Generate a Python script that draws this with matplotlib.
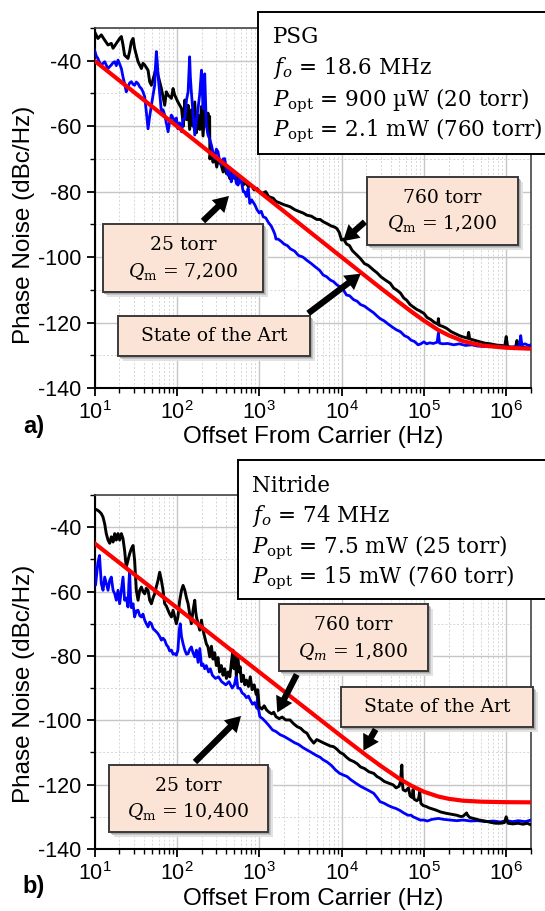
import numpy as np
import matplotlib
matplotlib.use('Agg')
import matplotlib.pyplot as plt
from matplotlib.patches import Rectangle, FancyArrowPatch
from matplotlib.ticker import FixedLocator, NullFormatter, FuncFormatter, LogLocator

plt.rcParams['font.family'] = ['Liberation Sans', 'DejaVu Sans']
plt.rcParams['mathtext.fontset'] = 'dejavuserif'
plt.rcParams['axes.unicode_minus'] = False

# ---------------- data ----------------
y_major = [-140, -120, -100, -80, -60, -40]
y_minor = [-130, -110, -90, -70, -50, -30]
x_major = [1e1, 1e2, 1e3, 1e4, 1e5, 1e6]

# state of the art (red)
f_sota = [10, 31.6, 100, 316, 1000, 3162, 10000, 20000, 30000, 50000, 70000,
          100000, 150000, 200000, 300000, 500000, 1000000, 2000000]
pn_sota_a = [-40, -50, -60, -70, -80, -90, -100, -106, -109.5, -113.8, -116.6,
             -119.4, -122.3, -123.9, -125.7, -127.0, -127.7, -128.0]
pn_sota_b = [-45, -55, -65, -75, -85, -95, -105, -110.9, -114.2, -118.1, -120.3,
             -122.2, -123.7, -124.4, -125.0, -125.3, -125.45, -125.5]

# panel a) PSG, 760 torr (black)
f_a_760 = [
    10, 11, 12.1, 13.3, 14.6, 16, 16.8, 18.4, 20.2, 21.2,
    22.2, 23.2, 25.5, 26.7, 28, 29.4, 30.7, 33.8, 37.1, 38.8,
    40.7, 44.7, 46.8, 49.1, 53.8, 56.4, 59.1, 64.9, 71.2, 74.6,
    78.2, 85.9, 90, 94.2, 103, 114, 120, 125, 131, 137,
    143, 150, 157, 165, 173, 181, 190, 199, 208, 218,
    228, 239, 245, 250, 252, 262, 275, 288, 305, 320,
    347, 365, 380, 400, 418, 440, 460, 503, 530, 560,
    609, 640, 670, 740, 800, 870, 940, 1000, 1100, 1200,
    1300, 1480, 1600, 1800, 2000, 2370, 2700, 3000, 3400, 3800,
    4300, 5000, 5500, 6000, 6700, 7500, 8200, 8800, 9400, 10000,
    10600, 11500, 12500, 13500, 15400, 17000, 19000, 21000, 24600, 27000,
    30000, 34000, 39000, 43000, 47000, 52000, 57000, 62000, 68000, 74000,
    82000, 90000, 100000, 110000, 120000, 135000, 148000, 150000, 153000, 170000,
    190000, 215000, 245000, 270000, 300000, 340000, 350000, 360000, 420000, 480000,
    550000, 640000, 770000, 880000, 960000, 1000000, 1040000, 1150000, 1300000, 1350000,
    1400000, 1600000, 1800000, 2000000]
pn_a_760 = [
    -31.1, -33.2, -32.1, -33.7, -35.2, -34.7, -36.2, -34.7, -33.2, -32.6,
    -35.2, -38.3, -39.3, -37.2, -34.2, -33.2, -36.2, -40.3, -42.4, -40.8,
    -41.3, -42.9, -46.4, -47.5, -43.9, -41.3, -44.4, -48.5, -53.6, -49.5,
    -50.5, -51.5, -48.5, -50.5, -52.6, -54.6, -60.0, -52.0, -58.0, -53.6,
    -61.0, -55.0, -60.0, -52.6, -62.0, -56.6, -61.0, -54.0, -63.0, -55.0,
    -60.0, -56.0, -62.0, -57.0, -70.0, -67.0, -71.0, -68.9, -72.5, -70.0,
    -72.0, -74.0, -71.5, -74.5, -73.0, -76.0, -74.0, -76.0, -75.0, -77.5,
    -76.5, -78.0, -77.0, -78.5, -78.0, -79.5, -79.0, -80.0, -80.5, -80.0,
    -81.5, -82.0, -83.0, -83.5, -84.0, -84.6, -85.5, -86.0, -86.5, -87.2,
    -87.5, -88.5, -88.5, -89.2, -89.8, -90.5, -90.8, -91.3, -92.5, -94.8,
    -94.5, -96.0, -96.5, -98.0, -99.4, -100.5, -102.0, -102.5, -104.0, -104.8,
    -106.0, -107.0, -108.0, -109.5, -110.1, -111.0, -112.5, -113.2, -114.5, -115.2,
    -116.0, -116.5, -117.2, -118.5, -119.0, -120.0, -120.5, -118.8, -120.8, -121.2,
    -121.8, -122.8, -123.5, -124.0, -124.4, -124.8, -123.0, -125.0, -125.5, -125.9,
    -126.3, -126.5, -126.9, -127.0, -127.2, -124.3, -127.3, -127.5, -127.5, -125.5,
    -127.8, -127.5, -127.8, -127.5]

# panel a) PSG, 25 torr (blue)
f_a_25 = [
    10, 10.5, 11, 11.5, 12.1, 12.7, 13.3, 14, 14.6, 15.3,
    16, 16.8, 17.6, 18.4, 19.3, 20.2, 21.2, 22.2, 23.2, 24.3,
    25.5, 26.7, 28, 29.4, 30.7, 32.2, 33.8, 35.4, 37.1, 38.8,
    40.7, 42.6, 44.7, 46.8, 49.1, 51.4, 53.8, 55, 56.4, 57.7,
    59.1, 62, 64.9, 68, 71.2, 74.6, 78.2, 82, 85.9, 90,
    94.2, 98.6, 103, 108, 114, 119, 125, 131, 137, 140,
    143, 146, 150, 157, 165, 173, 181, 190, 195, 199,
    203, 208, 213, 218, 223, 228, 239, 251, 263, 275,
    288, 302, 316, 330, 347, 364, 381, 398, 418, 437,
    458, 480, 503, 528, 554, 580, 609, 640, 668, 700,
    734, 770, 810, 885, 940, 1000, 1060, 1120, 1200, 1300,
    1400, 1480, 1550, 1600, 1700, 1850, 2000, 2200, 2400, 2700,
    3000, 3400, 3800, 4300, 4800, 5400, 6000, 6600, 7300, 8000,
    8800, 9600, 10500, 11500, 12500, 14000, 15500, 17000, 19000, 21500,
    24500, 27000, 29400, 33000, 37000, 42000, 47000, 52000, 58000, 64000,
    70000, 77000, 85000, 92000, 100000, 108000, 118000, 130000, 145000, 150000,
    155000, 170000, 195000, 230000, 270000, 320000, 380000, 450000, 550000, 650000,
    800000, 950000, 1100000, 1300000, 1450000, 1500000, 1550000, 1700000, 1850000, 2000000]
pn_a_25 = [
    -36.7, -38.5, -39.3, -40.5, -41.3, -40.8, -40.3, -41.5, -42.4, -41.8,
    -41.3, -40.6, -40.3, -41.5, -39.8, -41.0, -42.4, -45.0, -47.0, -49.5,
    -48.0, -46.8, -46.4, -47.2, -47.5, -46.5, -47.0, -48.0, -48.5, -49.5,
    -51.0, -55.6, -60.8, -57.0, -53.6, -50.5, -47.5, -42.0, -37.2, -40.0,
    -44.4, -50.0, -55.6, -55.0, -56.6, -59.0, -61.7, -58.5, -56.6, -57.5,
    -58.7, -57.5, -60.8, -59.0, -61.7, -58.0, -57.6, -52.0, -49.5, -44.0,
    -38.8, -45.0, -49.5, -56.0, -62.7, -58.0, -54.6, -50.0, -46.0, -42.9,
    -48.0, -54.6, -50.0, -44.0, -52.0, -59.7, -62.7, -64.0, -65.8, -68.0,
    -69.9, -67.0, -67.8, -70.5, -71.9, -70.0, -69.9, -73.0, -75.0, -73.5,
    -77.0, -75.0, -74.0, -77.5, -78.0, -75.5, -77.0, -80.0, -80.1, -81.5,
    -79.0, -83.6, -82.5, -84.0, -85.5, -86.5, -86.0, -87.7, -88.0, -89.5,
    -90.5, -91.8, -93.0, -94.5, -94.5, -95.2, -96.0, -96.5, -97.5, -98.2,
    -99.5, -100.0, -101.0, -102.0, -103.0, -104.0, -105.5, -106.0, -107.0, -107.5,
    -108.5, -109.1, -110.0, -111.6, -111.8, -113.0, -113.5, -114.5, -115.0, -116.0,
    -117.0, -118.0, -118.8, -119.5, -120.5, -121.5, -122.3, -122.8, -124.0, -124.5,
    -125.4, -125.8, -126.8, -126.5, -125.9, -126.5, -126.2, -126.4, -126.0, -123.2,
    -126.3, -126.5, -126.4, -126.8, -126.5, -127.0, -126.8, -127.2, -127.3, -127.2,
    -127.5, -127.4, -127.6, -127.4, -127.2, -124.0, -126.8, -126.5, -127.0, -126.8]

# panel b) Nitride, 760 torr (black)
f_b_760 = [
    10, 10.5, 11, 11.5, 12.1, 12.7, 13.3, 13.9, 14.6, 15.3,
    16, 16.8, 17.6, 18.4, 19.3, 20.2, 21.2, 22.2, 23.2, 24.3,
    25.5, 26.7, 28, 29.4, 30.7, 32.2, 33.8, 35.4, 37.1, 38.8,
    40.7, 42.6, 44.7, 46.8, 49.1, 51.4, 53.8, 56.4, 59.1, 61.9,
    64.9, 68, 71.2, 74.6, 78.2, 82, 85.9, 90, 94.2, 98.6,
    103, 108, 114, 119, 125, 131, 137, 143, 150, 157,
    165, 169, 173, 181, 190, 199, 208, 218, 228, 239,
    251, 263, 275, 288, 302, 316, 330, 347, 364, 381,
    400, 420, 440, 460, 480, 495, 510, 528, 550, 570,
    587, 610, 640, 670, 700, 740, 780, 820, 870, 920,
    960, 1000, 1080, 1150, 1230, 1320, 1420, 1500, 1600, 1750,
    1900, 2100, 2370, 2600, 2900, 3200, 3500, 3800, 4100, 4400,
    4600, 5000, 5500, 6000, 6600, 7300, 8000, 8800, 9600, 10500,
    11500, 12600, 14000, 15500, 17000, 19000, 21500, 24600, 27000, 29400,
    33000, 37000, 42500, 46000, 50000, 52000, 54000, 55000, 56000, 60000,
    65000, 68000, 72000, 74000, 76000, 82000, 86000, 89000, 92000, 98000,
    107000, 115000, 125000, 140000, 160000, 186000, 215000, 250000, 280000, 300000,
    330000, 340000, 360000, 400000, 470000, 550000, 640000, 745000, 850000, 950000,
    1000000, 1050000, 1200000, 1400000, 1600000, 1800000, 2000000]
pn_b_760 = [
    -34.8, -34.5, -34.8, -35.2, -35.8, -36.9, -39.0, -42.0, -44.0, -45.0,
    -43.0, -44.6, -42.0, -44.0, -42.0, -44.0, -42.0, -43.6, -47.2, -52.4,
    -50.3, -48.3, -46.7, -45.7, -50.3, -59.6, -62.7, -59.6, -58.6, -60.0,
    -60.7, -59.0, -59.6, -62.7, -63.8, -62.0, -60.7, -58.5, -56.5, -54.0,
    -56.5, -59.6, -63.8, -64.5, -65.8, -67.0, -67.9, -65.8, -67.9, -70.0,
    -67.9, -63.0, -59.6, -58.1, -59.6, -62.0, -63.8, -66.9, -70.0, -66.0,
    -62.7, -66.0, -67.9, -70.0, -72.0, -68.9, -72.0, -74.1, -76.2, -77.2,
    -80.3, -77.0, -81.0, -79.0, -83.0, -80.5, -85.0, -83.0, -86.0, -84.0,
    -87.0, -85.0, -86.5, -82.0, -78.2, -84.0, -80.0, -86.0, -79.8, -85.0,
    -83.4, -88.0, -86.0, -89.0, -87.5, -89.5, -86.5, -90.5, -89.0, -92.0,
    -90.5, -95.8, -96.5, -95.5, -96.8, -97.5, -98.0, -97.5, -98.9, -99.5,
    -99.0, -99.9, -99.9, -101.0, -102.0, -102.5, -103.5, -104.0, -105.5, -106.5,
    -107.1, -106.0, -106.5, -107.0, -107.5, -108.0, -108.2, -109.0, -110.0, -110.5,
    -111.5, -112.3, -112.8, -113.5, -114.5, -115.0, -116.0, -116.5, -117.5, -118.0,
    -119.0, -119.5, -120.1, -121.0, -120.5, -119.0, -113.9, -120.0, -121.6, -122.0,
    -121.0, -123.5, -124.0, -121.5, -124.5, -125.0, -124.5, -122.2, -125.8, -126.5,
    -126.8, -127.2, -127.5, -127.9, -128.5, -128.9, -129.2, -129.5, -129.9, -129.8,
    -128.8, -129.5, -130.2, -130.5, -131.0, -131.3, -131.7, -132.0, -132.0, -131.8,
    -130.0, -132.0, -132.2, -132.0, -132.3, -132.0, -132.5]

# panel b) Nitride, 25 torr (blue)
f_b_25 = [
    10, 10.3, 10.6, 11, 11.5, 11.8, 12.1, 12.7, 13.3, 13.9,
    14.6, 15.3, 16, 16.8, 17.6, 18.4, 19.3, 20.2, 21.2, 22.2,
    23.2, 24.3, 25.5, 26.1, 26.7, 27.4, 28, 29.4, 30.7, 32.2,
    33.8, 35.4, 37.1, 38.8, 40.7, 42.6, 44.7, 46.8, 49.1, 51.4,
    53.8, 56.4, 59.1, 62, 64.9, 68, 71.2, 74.6, 78.2, 82,
    85.9, 90, 94.2, 98.6, 103, 105, 107, 110, 114, 119,
    125, 131, 137, 143, 150, 157, 165, 173, 181, 190,
    199, 208, 218, 228, 243, 255, 270, 295, 320, 350,
    394, 430, 470, 500, 528, 550, 587, 620, 660, 700,
    740, 780, 830, 880, 940, 960, 980, 1020, 1100, 1200,
    1300, 1450, 1600, 1800, 2000, 2370, 2700, 3000, 3400, 3800,
    4300, 5000, 5500, 6000, 6700, 7500, 8500, 9500, 10500, 11700,
    13000, 15000, 17000, 19500, 22000, 24600, 27000, 29400, 33000, 37000,
    41000, 45700, 51000, 57000, 64000, 70000, 74000, 82000, 90000, 100000,
    110000, 125000, 150000, 175000, 210000, 250000, 300000, 370000, 450000, 550000,
    700000, 850000, 1000000, 1200000, 1400000, 1700000, 2000000]
pn_b_25 = [
    -52.0, -58.0, -55.0, -51.0, -48.8, -53.0, -57.6, -59.6, -55.5, -57.5,
    -59.6, -56.5, -55.5, -59.6, -60.7, -62.7, -59.6, -63.8, -59.6, -55.5,
    -62.7, -62.0, -64.8, -58.0, -53.4, -62.0, -65.0, -63.8, -67.9, -66.0,
    -65.8, -67.5, -67.9, -67.0, -68.9, -70.0, -71.0, -69.5, -70.0, -71.5,
    -72.0, -72.5, -73.1, -74.0, -75.1, -74.5, -75.1, -76.5, -77.2, -78.5,
    -78.2, -79.5, -79.3, -79.8, -78.2, -75.0, -72.0, -70.0, -74.0, -76.2,
    -78.2, -79.5, -79.3, -78.0, -77.2, -79.0, -80.3, -78.2, -82.0, -77.7,
    -83.0, -82.5, -84.0, -83.0, -85.0, -84.0, -86.0, -87.0, -86.5, -88.0,
    -89.0, -88.0, -90.0, -89.0, -86.0, -90.0, -90.1, -91.5, -92.0, -93.0,
    -92.5, -93.7, -95.0, -94.5, -96.3, -92.0, -96.5, -98.9, -99.5, -100.5,
    -101.5, -103.0, -103.5, -104.5, -105.0, -106.1, -107.0, -107.5, -108.5, -109.2,
    -110.0, -111.0, -111.5, -112.3, -113.0, -114.0, -115.5, -116.5, -117.0, -117.5,
    -118.5, -119.6, -120.5, -121.3, -122.0, -122.7, -124.0, -125.3, -125.8, -126.5,
    -127.0, -127.4, -128.0, -128.8, -129.5, -129.5, -130.0, -130.5, -131.0, -131.0,
    -131.3, -130.8, -130.5, -130.8, -131.0, -131.2, -131.0, -131.3, -131.2, -131.5,
    -131.3, -131.6, -131.2, -131.5, -131.2, -131.5, -131.0]

info_a = ['PSG', r'$f_o$ = 18.6 MHz', r'$P_{\rm opt}$ = 900 µW (20 torr)',
          r'$P_{\rm opt}$ = 2.1 mW (760 torr)']
info_b = ['Nitride', r'$f_o$ = 74 MHz', r'$P_{\rm opt}$ = 7.5 mW (25 torr)',
          r'$P_{\rm opt}$ = 15 mW (760 torr)']

# ---------------- figure ----------------
W, H = 545, 911
fig = plt.figure(figsize=(W / 100, H / 100), dpi=100)
fig.patch.set_facecolor('white')


def fx(x):
    return x / W


def fy(y):
    return 1 - y / H


ax1 = fig.add_axes([fx(94.5), fy(388), (531 - 94.5) / W, (388 - 28) / H])
ax2 = fig.add_axes([fx(94.5), fy(849), (531 - 94.5) / W, (849 - 495) / H])


def style(ax, ylab_y, xlab_y):
    ax.set_xscale('log')
    ax.set_xlim(10, 2e6)
    ax.set_ylim(-140, -30)
    ax.yaxis.set_major_locator(FixedLocator(y_major))
    ax.yaxis.set_major_formatter(FuncFormatter(lambda v, p: '%d' % v))
    ax.yaxis.set_minor_locator(FixedLocator(y_minor))
    ax.xaxis.set_major_locator(FixedLocator(x_major))
    ax.xaxis.set_major_formatter(FuncFormatter(
        lambda v, p: r'$\mathregular{10^{%d}}$' % round(np.log10(v))))
    ax.xaxis.set_minor_locator(LogLocator(base=10, subs=np.arange(2, 10), numticks=30))
    ax.xaxis.set_minor_formatter(NullFormatter())
    ax.grid(which='major', color='#c6c6c6', lw=1.0)
    ax.grid(which='minor', color='#d6d6d6', lw=0.7, ls=(0, (2, 2)))
    ax.set_axisbelow(True)
    ax.tick_params(which='major', direction='out', length=6, width=1.3,
                   labelsize=15.5, pad=3.5, colors='black')
    ax.tick_params(which='minor', direction='out', length=3.5, width=1.0)
    ax.tick_params(which='both', top=False, right=False)
    for s in ['left', 'bottom']:
        ax.spines[s].set_linewidth(1.5)
    for s in ['top', 'right']:
        ax.spines[s].set_linewidth(1.2)
        ax.spines[s].set_color('#444444')
    ax.set_xlabel('Offset From Carrier (Hz)', fontsize=17.5)
    ax.set_ylabel('Phase Noise (dBc/Hz)', fontsize=17.5)
    ax.yaxis.set_label_coords(-0.137, ylab_y)
    ax.xaxis.set_label_coords(0.5, xlab_y)


style(ax1, 0.453, -0.106)
style(ax2, 0.466, -0.110)

ax1.plot(f_a_760, pn_a_760, color='black', lw=2.1, zorder=3)
ax1.plot(f_a_25, pn_a_25, color='#0000ff', lw=2.0, zorder=4)
ax1.plot(f_sota, pn_sota_a, color='#ff0000', lw=3.0, zorder=5)

ax2.plot(f_b_25, pn_b_25, color='#0000ff', lw=2.0, zorder=3)
ax2.plot(f_b_760, pn_b_760, color='black', lw=2.1, zorder=4)
ax2.plot(f_sota, pn_sota_b, color='#ff0000', lw=3.0, zorder=5)

SERIF = ['DejaVu Serif']


def info_box(x0, y0, y1, lines, tx, baselines):
    fig.add_artist(Rectangle((fx(x0), fy(y1)), fx(560 - x0), (y1 - y0) / H,
                             transform=fig.transFigure, facecolor='white',
                             edgecolor='black', lw=1.4, zorder=6))
    for s, b in zip(lines, baselines):
        fig.text(fx(tx), fy(b), s, fontsize=15.5, family=SERIF,
                 ha='left', va='baseline', zorder=7)


def note_box(x0, x1, y0, y1, lines, centers):
    w, h = (x1 - x0) / W, (y1 - y0) / H
    for off, c in [(4.5, '#e2e2e2'), (3, '#c4c4c4'), (1.5, '#a8a8a8')]:
        fig.add_artist(Rectangle((fx(x0 + off), fy(y1 + off)), w, h,
                                 transform=fig.transFigure, facecolor=c,
                                 edgecolor='none', zorder=6))
    fig.add_artist(Rectangle((fx(x0), fy(y1)), w, h, transform=fig.transFigure,
                             facecolor='#fbe4d5', edgecolor='#3a3a3a', lw=1.4,
                             zorder=6.5))
    xc = (x0 + x1) / 2
    for s, yc in zip(lines, centers):
        fig.text(fx(xc), fy(yc), s, fontsize=13.5, family=SERIF,
                 ha='center', va='center', zorder=7)


def arrow(p0, p1):
    fig.add_artist(FancyArrowPatch((fx(p0[0]), fy(p0[1])), (fx(p1[0]), fy(p1[1])),
                                   transform=fig.transFigure,
                                   arrowstyle='simple,head_length=1.1,head_width=1.3,tail_width=0.45',
                                   mutation_scale=10, color='black', lw=0, zorder=8))


# panel a annotations
info_box(258, 12, 154, info_a, 273, [43, 74, 106, 136])
note_box(102.5, 263, 224, 292, ['25 torr', r'$Q_{\rm m}$ = 7,200'], [245, 272])
note_box(118, 310, 316, 356, ['State of the Art'], [336])
note_box(367, 518, 177, 245, ['760 torr', r'$Q_{\rm m}$ = 1,200'], [198, 224])
arrow((201, 223), (231, 194))
arrow((306, 315), (363, 272))
arrow((367, 220), (341, 243))

# panel b annotations
info_box(238, 460, 599, info_b, 252, [492, 522, 553, 583])
note_box(279, 428, 604, 671, ['760 torr', r'$Q_m$ = 1,800'], [625, 651])
note_box(341, 533, 687, 727, ['State of the Art'], [707])
note_box(109, 268, 765, 832, ['25 torr', r'$Q_{\rm m}$ = 10,400'], [786, 812])
arrow((298, 672), (276, 715))
arrow((377, 727), (362, 753))
arrow((193, 764), (243, 714))

fig.text(fx(34), fy(427), 'a)', fontsize=17, fontweight='bold', ha='center', va='center')
fig.text(fx(34), fy(886), 'b)', fontsize=17, fontweight='bold', ha='center', va='center')

fig.savefig('out.png', dpi=100)
